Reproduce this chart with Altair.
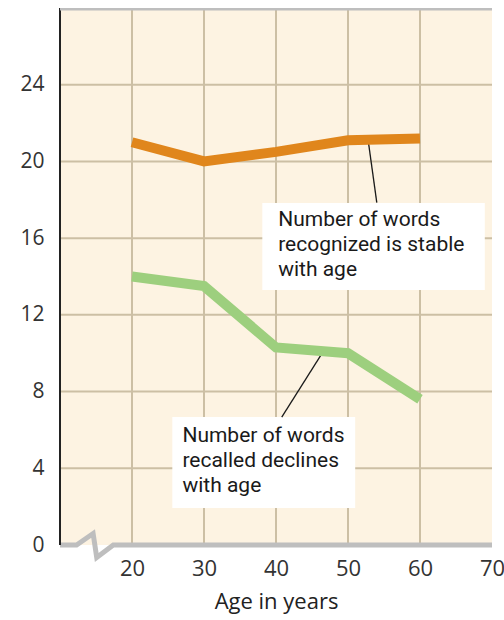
import altair as alt
import pandas as pd

# ---- data ----
ages = [20, 30, 40, 50, 60]
recognized = [21.0, 20.0, 20.5, 21.1, 21.2]
recalled = [14.0, 13.5, 10.3, 10.0, 7.6]
x_ticks = [20, 30, 40, 50, 60, 70]
y_ticks = [0, 4, 8, 12, 16, 20, 24]
x_grid = [20, 30, 40, 50, 60]
y_grid = [4, 8, 12, 16, 20, 24]
note_recognized = ["Number of words", "recognized is stable", "with age"]
note_recalled = ["Number of words", "recalled declines", "with age"]

FONT = "Roboto"
AXFONT = "Open Sans"
ORANGE = "#E0861C"
GREEN = "#9DCF7E"
GRID = "#CCBFA4"
AXISGRAY = "#BEBEBE"
BG = "#FDF3E2"

xs = alt.Scale(domain=[10, 70], nice=False, zero=False)
ys = alt.Scale(domain=[0, 28], nice=False, zero=False)

XAX = alt.Axis(values=x_ticks, domain=False, ticks=False, grid=False, labelFlush=False,
               labelFontSize=22, labelFont=AXFONT, labelColor="#333333",
               labelPadding=13, titleFont=AXFONT, titleFontSize=22,
               titleFontWeight="normal", titleColor="#222222", titlePadding=12,
               title="Age in years")
YAX = alt.Axis(values=y_ticks, domain=False, ticks=False, grid=False, labelFlush=False,
               labelFontSize=21, labelFont=AXFONT, labelColor="#333333",
               labelPadding=16, title=None)


def X(field="x"):
    return alt.X(f"{field}:Q", scale=xs, axis=XAX)


def Y(field="y"):
    return alt.Y(f"{field}:Q", scale=ys, axis=YAX)


# grid
vgrid = alt.Chart(pd.DataFrame({"x": x_grid})).mark_rule(color=GRID, strokeWidth=2).encode(
    x=X(), y=alt.value(0), y2=alt.value(537))
hgrid = alt.Chart(pd.DataFrame({"y": y_grid})).mark_rule(color=GRID, strokeWidth=2).encode(
    y=Y(), x=alt.value(0), x2=alt.value(432))

# annotation boxes (data-space placement)
boxes = pd.DataFrame({"x": [38.1, 25.6], "x2": [69.0, 51.0], "y": [17.83, 6.67], "y2": [13.3, 1.93]})
box_layer = alt.Chart(boxes).mark_rect(color="white").encode(
    x=X(), x2="x2:Q", y=Y(), y2="y2:Q")

leaders = pd.DataFrame({"x": [52.8, 46.5], "x2": [54.0, 40.8], "y": [21.1, 10.06], "y2": [17.85, 6.67]})
leader_layer = alt.Chart(leaders).mark_rule(color="#1a1a1a", strokeWidth=1.3).encode(
    x=X(), x2="x2:Q", y=Y(), y2="y2:Q")

# data lines
df = pd.DataFrame({"x": ages * 2, "y": recognized + recalled,
                   "s": ["recognized"] * len(ages) + ["recalled"] * len(ages)})
lines = alt.Chart(df).mark_line(strokeWidth=10, strokeCap="butt", strokeJoin="miter").encode(
    x=X(), y=Y(),
    color=alt.Color("s:N", scale=alt.Scale(domain=["recognized", "recalled"], range=[ORANGE, GREEN]),
                    legend=None),
    detail="s:N")

# annotation text
txt = pd.DataFrame({
    "x": [40.3] * 3 + [27.0] * 3,
    "y": [16.62, 15.32, 14.02, 5.36, 4.06, 2.76],
    "t": note_recognized + note_recalled})
text_layer = alt.Chart(txt).mark_text(align="left", baseline="alphabetic", font=FONT,
                                      fontSize=21, color="#1a1a1a").encode(
    x=X(), y=Y(), text="t:N")

# axis decorations
yaxis_line = alt.Chart(pd.DataFrame({"x": [10], "y": [0], "y2": [28]})).mark_rule(
    color="#222222", strokeWidth=2).encode(x=X(), y=Y(), y2="y2:Q")
top_bar = alt.Chart(pd.DataFrame({"x": [10], "x2": [70], "y": [28]})).mark_rule(
    color=AXISGRAY, strokeWidth=5).encode(x=X(), x2="x2:Q", y=Y())
zig = pd.DataFrame({"x": [10, 12.3, 14.6, 15.1, 17.4, 70],
                    "y": [0, 0, 0.6, -0.65, 0, 0], "o": [0, 1, 2, 3, 4, 5]})
zig_layer = alt.Chart(zig).mark_line(color=AXISGRAY, strokeWidth=5, strokeJoin="miter",
                                     clip=False).encode(x=X(), y=Y(), order="o:Q")

chart = alt.layer(vgrid, hgrid, box_layer, leader_layer, lines, text_layer,
                  zig_layer, yaxis_line, top_bar).properties(
    width=432, height=537,
    autosize=alt.AutoSizeParams(type="none"),
    padding={"left": 52, "top": 0, "right": 12, "bottom": 71},
).configure(background="white").configure_view(stroke=None, fill=BG)

chart.save("out.html", embed_options={"renderer": "svg", "actions": False})

# drop the page's right/bottom margins so the "70" label and the axis title fit the window
with open("out.html", encoding="utf-8") as fh:
    page = fh.read()
page = page.replace("</head>", "<style>body{margin:8px 0 0 8px;}</style>\n</head>", 1)
with open("out.html", "w", encoding="utf-8") as fh:
    fh.write(page)
